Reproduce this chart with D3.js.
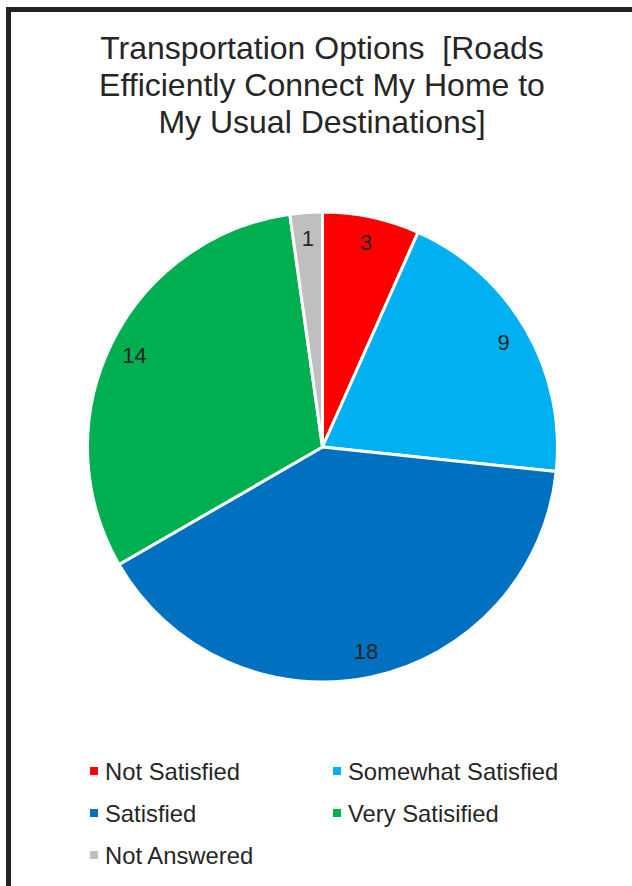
<!DOCTYPE html>
<html>
<head>
<meta charset="utf-8">
<script src="https://cdn.jsdelivr.net/npm/d3@7"></script>
<style>
html,body{margin:0;padding:0;background:#fff;}
svg{display:block;font-family:"Liberation Sans",Arial,sans-serif;}
</style>
</head>
<body>
<svg id="chart" width="632" height="886"></svg>
<script>
const titleLines = ["Transportation Options  [Roads", "Efficiently Connect My Home to", "My Usual Destinations]"];
const categories = ["Not Satisfied", "Somewhat Satisfied", "Satisfied", "Very Satisifed", "Not Answered"];
const legendLabels = ["Not Satisfied", "Somewhat Satisfied", "Satisfied", "Very Satisified", "Not Answered"];
const values = [3, 9, 18, 14, 1];
const colors = ["#FF0000", "#00B0F0", "#0070C0", "#00B050", "#BFBFBF"];

const svg = d3.select("#chart");
const textColor = "#262626";

// border
svg.append("rect")
  .attr("x", 8.5).attr("y", 9.5)
  .attr("width", 640).attr("height", 900)
  .attr("fill", "none").attr("stroke", "#222").attr("stroke-width", 5);

// title
svg.append("g").selectAll("text").data(titleLines).join("text")
  .attr("x", 322).attr("y", (d, i) => 59 + i * 37)
  .attr("text-anchor", "middle")
  .attr("font-size", 32)
  .attr("fill", textColor)
  .style("white-space", "pre")
  .text(d => d);

// pie
const cx = 322.5, cy = 447, R = 235;
const data = categories.map((c, i) => ({cat: c, value: values[i], color: colors[i]}));
const pie = d3.pie().value(d => d.value).sort(null);
const arcs = pie(data);
const arc = d3.arc().innerRadius(0).outerRadius(R);
const labelArc = d3.arc().innerRadius(R * 0.89).outerRadius(R * 0.89);

const g = svg.append("g").attr("transform", `translate(${cx},${cy})`);
g.selectAll("path").data(arcs).join("path")
  .attr("d", arc)
  .attr("fill", d => d.data.color)
  .attr("stroke", "#fff")
  .attr("stroke-width", 3)
  .attr("stroke-linejoin", "round");

g.selectAll("text").data(arcs).join("text")
  .attr("transform", d => `translate(${labelArc.centroid(d)})`)
  .attr("text-anchor", "middle")
  .attr("dominant-baseline", "central")
  .attr("font-size", 22)
  .attr("fill", textColor)
  .text(d => d.data.value);

// legend
const legendPos = [[90, 771], [333, 771], [90, 813], [333, 813], [90, 855]];
const lg = svg.append("g");
const items = lg.selectAll("g").data(data).join("g")
  .attr("transform", (d, i) => `translate(${legendPos[i][0]},${legendPos[i][1]})`);
items.append("rect")
  .attr("x", 0).attr("y", -4).attr("width", 8).attr("height", 8)
  .attr("fill", d => d.color);
items.append("text")
  .attr("x", 15).attr("y", 8.5)
  .attr("font-size", 23.8)
  .attr("fill", textColor)
  .text((d, i) => legendLabels[i]);
</script>
</body>
</html>
